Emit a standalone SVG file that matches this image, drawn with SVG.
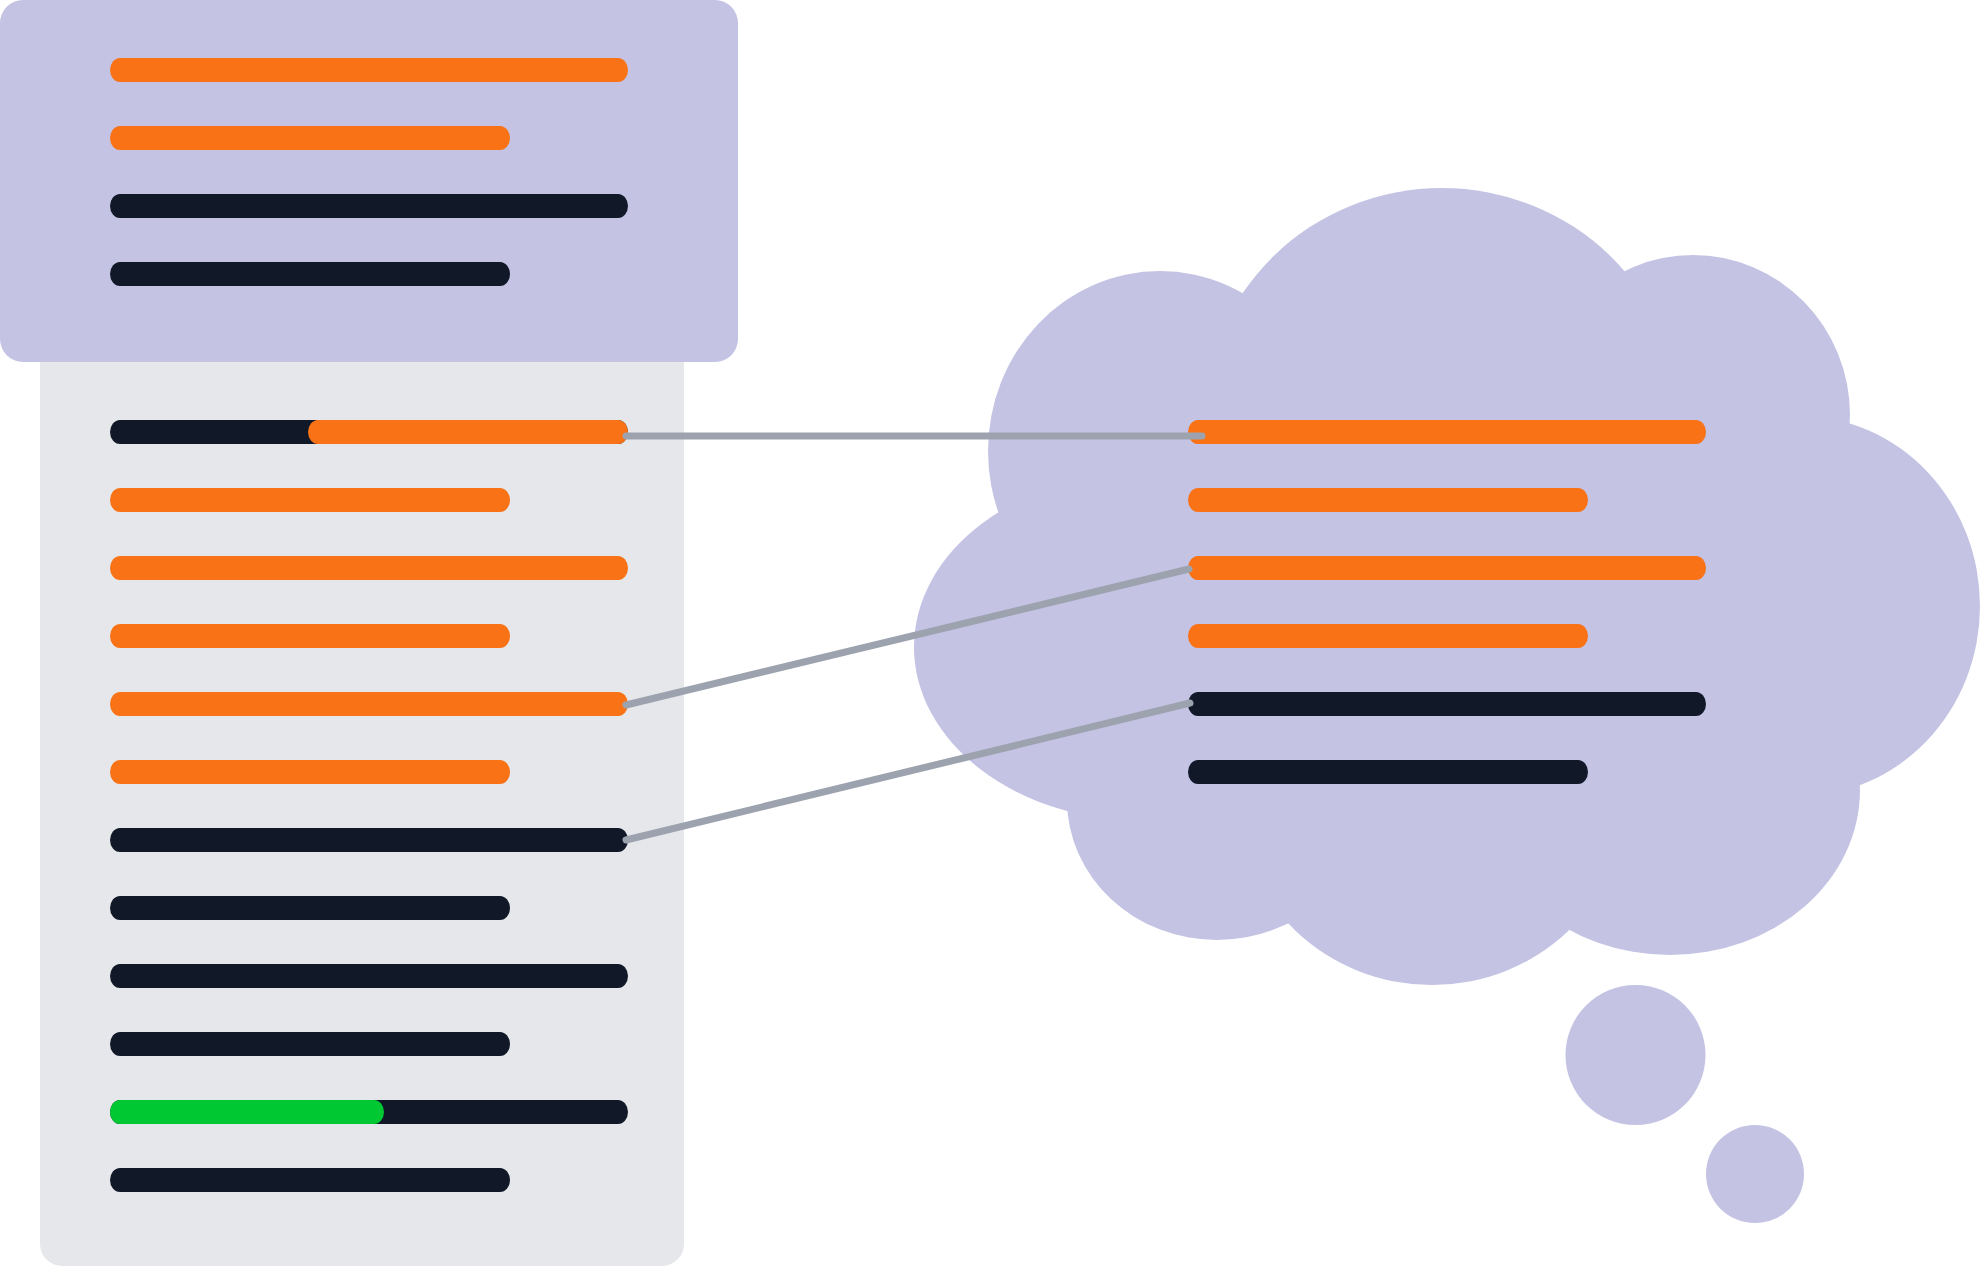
<svg xmlns="http://www.w3.org/2000/svg" width="1981" height="1266" viewBox="0 0 1981 1266">
<style>
.bg{fill:#ffffff}
.lav{fill:#c4c3e4}
.panel{fill:#e5e7eb}
.o{fill:#f97316}
.d{fill:#111827}
.g{fill:#00c832}
.conn{stroke:#9ca3af;stroke-width:7;stroke-linecap:round;fill:none}
</style>
<rect class="bg" x="0" y="0" width="1981" height="1266"/>
<g id="document">
<rect class="panel" x="40" y="300" width="644" height="966" rx="22"/>
<rect class="d" x="110" y="420" width="518" height="24" rx="10" ry="12"/>
<rect class="o" x="308" y="420" width="320" height="24" rx="10" ry="12"/>
<rect class="o" x="110" y="488" width="400" height="24" rx="10" ry="12"/>
<rect class="o" x="110" y="556" width="518" height="24" rx="10" ry="12"/>
<rect class="o" x="110" y="624" width="400" height="24" rx="10" ry="12"/>
<rect class="o" x="110" y="692" width="518" height="24" rx="10" ry="12"/>
<rect class="o" x="110" y="760" width="400" height="24" rx="10" ry="12"/>
<rect class="d" x="110" y="828" width="518" height="24" rx="10" ry="12"/>
<rect class="d" x="110" y="896" width="400" height="24" rx="10" ry="12"/>
<rect class="d" x="110" y="964" width="518" height="24" rx="10" ry="12"/>
<rect class="d" x="110" y="1032" width="400" height="24" rx="10" ry="12"/>
<rect class="d" x="110" y="1100" width="518" height="24" rx="10" ry="12"/>
<rect class="g" x="110" y="1100" width="274" height="24" rx="10" ry="12"/>
<rect class="d" x="110" y="1168" width="400" height="24" rx="10" ry="12"/>
</g>
<g id="header">
<rect class="lav" x="0" y="0" width="738" height="362" rx="23"/>
<rect class="o" x="110" y="58" width="518" height="24" rx="10" ry="12"/>
<rect class="o" x="110" y="126" width="400" height="24" rx="10" ry="12"/>
<rect class="d" x="110" y="194" width="518" height="24" rx="10" ry="12"/>
<rect class="d" x="110" y="262" width="400" height="24" rx="10" ry="12"/>
</g>
<g id="cloud">
<polygon class="lav" points="1000,515 1242,294 1620,273 1845,426 1852,784 1570,922 1290,918 1070,806"/>
<ellipse class="lav" cx="1160" cy="451" rx="172" ry="180"/>
<ellipse class="lav" cx="1442" cy="420" rx="238" ry="232"/>
<ellipse class="lav" cx="1693" cy="415" rx="157" ry="160"/>
<ellipse class="lav" cx="1800" cy="606" rx="180" ry="190"/>
<ellipse class="lav" cx="1670" cy="790" rx="190" ry="165"/>
<ellipse class="lav" cx="1432" cy="800" rx="193" ry="185"/>
<ellipse class="lav" cx="1217" cy="800" rx="150" ry="140"/>
<ellipse class="lav" cx="1144" cy="647" rx="230" ry="174"/>
<rect class="o" x="1188" y="420" width="518" height="24" rx="10" ry="12"/>
<rect class="o" x="1188" y="488" width="400" height="24" rx="10" ry="12"/>
<rect class="o" x="1188" y="556" width="518" height="24" rx="10" ry="12"/>
<rect class="o" x="1188" y="624" width="400" height="24" rx="10" ry="12"/>
<rect class="d" x="1188" y="692" width="518" height="24" rx="10" ry="12"/>
<rect class="d" x="1188" y="760" width="400" height="24" rx="10" ry="12"/>
</g>
<g id="bubble-large">
<circle class="lav" cx="1635.5" cy="1055" r="70"/>
</g>
<g id="bubble-small">
<circle class="lav" cx="1755" cy="1174" r="49"/>
</g>
<g id="connectors">
<line class="conn" x1="626" y1="436" x2="1202" y2="436"/>
<line class="conn" x1="626" y1="705" x2="1189" y2="569"/>
<line class="conn" x1="626" y1="840" x2="1190" y2="703"/>
</g>
</svg>
